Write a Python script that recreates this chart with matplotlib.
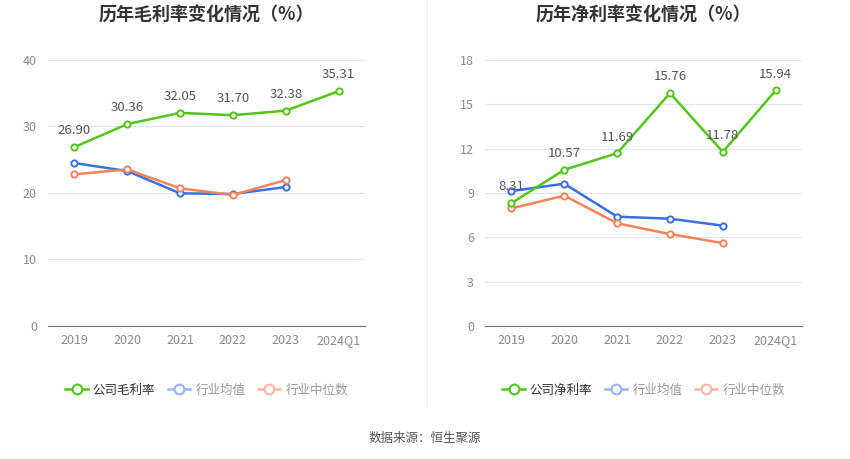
import matplotlib
matplotlib.use("Agg")
import matplotlib.pyplot as plt
from matplotlib.lines import Line2D

plt.rcParams['font.family'] = ['Noto Sans CJK SC', 'DejaVu Sans']

years = ["2019", "2020", "2021", "2022", "2023", "2024Q1"]

gross_company = [26.90, 30.36, 32.05, 31.70, 32.38, 35.31]
gross_avg = [24.5, 23.3, 19.95, 19.85, 20.9]
gross_median = [22.8, 23.55, 20.7, 19.7, 21.95]

net_company = [8.31, 10.57, 11.69, 15.76, 11.78, 15.94]
net_avg = [9.13, 9.63, 7.40, 7.26, 6.79]
net_median = [7.96, 8.82, 6.95, 6.22, 5.61]

GREEN = '#52c41a'
BLUE = '#3b6fe0'
ORANGE = '#f5845a'
BLUE_L = '#93b4f5'
ORANGE_L = '#fab8a0'


def draw(ax, title, company, avg, median, yticks, ymax, legend_name):
    x = list(range(len(years)))
    for vals, col in [(avg, BLUE), (median, ORANGE), (company, GREEN)]:
        ax.plot(x[:len(vals)], vals, color=col, lw=1.8, marker='o', ms=4.5,
                mfc='white', mec=col, mew=1.4, zorder=3)
    for xi, v in zip(x, company):
        ax.annotate(f"{v:.2f}", (xi, v), textcoords='offset points', xytext=(0, 7),
                    ha='center', va='bottom', fontsize=9.5, color='#555555', zorder=4)
    ax.set_xlim(-0.5, len(years) - 0.5)
    ax.set_ylim(0, ymax)
    ax.set_yticks(yticks)
    ax.set_xticks(x)
    ax.set_xticklabels(years)
    ax.grid(axis='y', color='#e0e6f1', lw=0.8)
    ax.set_axisbelow(True)
    for s in ['top', 'right', 'left']:
        ax.spines[s].set_visible(False)
    ax.spines['bottom'].set_color('#6e7079')
    ax.tick_params(axis='y', length=0, labelcolor='#8a8a8a', labelsize=9, pad=8)
    ax.tick_params(axis='x', length=0, labelcolor='#8a8a8a', labelsize=9, pad=6)
    ax.set_title(title, fontsize=13, fontweight='bold', color='#333333', pad=28)

    handles = [
        Line2D([0], [0], color=GREEN, lw=1.8, marker='o', ms=7, mfc='white', mec=GREEN, mew=1.5),
        Line2D([0], [0], color=BLUE_L, lw=1.8, marker='o', ms=7, mfc='white', mec=BLUE_L, mew=1.5),
        Line2D([0], [0], color=ORANGE_L, lw=1.8, marker='o', ms=7, mfc='white', mec=ORANGE_L, mew=1.5),
    ]
    leg = ax.legend(handles, [legend_name, "行业均值", "行业中位数"], loc='upper center',
                    bbox_to_anchor=(0.5, -0.175), ncol=3, frameon=False, fontsize=9,
                    handlelength=1.8, handletextpad=0.4, columnspacing=1.0)
    texts = leg.get_texts()
    texts[0].set_color('#333333')
    texts[1].set_color('#999999')
    texts[2].set_color('#999999')


fig = plt.figure(figsize=(8.5, 4.59), dpi=100)
ax1 = fig.add_axes([0.0565, 0.2898, 0.373, 0.5795])
ax2 = fig.add_axes([0.5706, 0.2898, 0.373, 0.5795])

draw(ax1, "历年毛利率变化情况（%）", gross_company, gross_avg, gross_median,
     [0, 10, 20, 30, 40], 40, "公司毛利率")
draw(ax2, "历年净利率变化情况（%）", net_company, net_avg, net_median,
     [0, 3, 6, 9, 12, 15, 18], 18, "公司净利率")

fig.add_artist(Line2D([0.5024, 0.5024], [0.115, 1.0], color='#eeeeee', lw=0.8))
fig.text(0.5, 0.045, "数据来源：恒生聚源", ha='center', va='center', fontsize=9, color='#555555')

fig.savefig("out.png", dpi=100)
